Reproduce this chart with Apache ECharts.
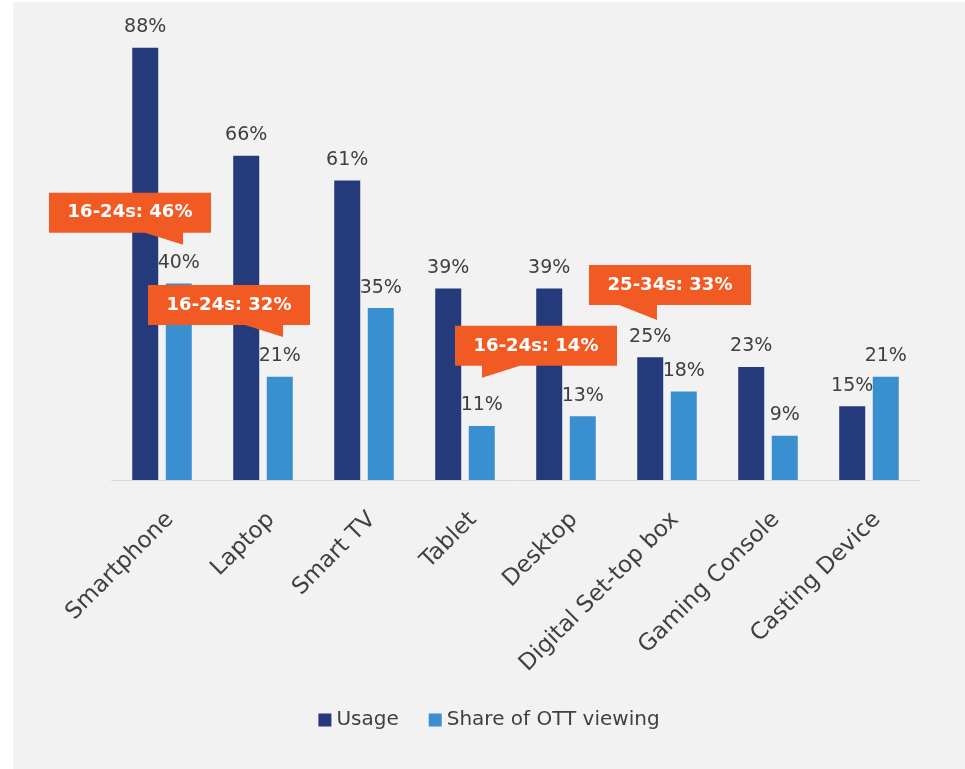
<!DOCTYPE html>
<html>
<head>
<meta charset="utf-8">
<script src="https://cdn.jsdelivr.net/npm/echarts@6/dist/echarts.min.js"></script>
<style>
  html, body { margin: 0; padding: 0; background: #ffffff; }
  #chart { position: absolute; left: 13px; top: 2px; width: 952px; height: 767px; background: #f2f2f2; }
</style>
</head>
<body>
<div id="chart"></div>
<script>
// Devices used to watch OTT content
const categories = ['Smartphone', 'Laptop', 'Smart TV', 'Tablet', 'Desktop', 'Digital Set-top box', 'Gaming Console', 'Casting Device'];
const usage = [88, 66, 61, 39, 39, 25, 23, 15];
const shareOfViewing = [40, 21, 35, 11, 13, 18, 9, 21];

// Age-group call-outs: text, the device they point at, and the value height of the pointer tip
const calloutText = ['16-24s: 46%', '16-24s: 32%', '16-24s: 14%', '25-34s: 33%'];
const calloutCategory = ['Smartphone', 'Laptop', 'Tablet', 'Digital Set-top box'];
const calloutTipValue = [47.9, 29.1, 20.8, 32.6];

// Bubble geometry relative to the pointer tip (pixels)
const calloutLayout = [
  { tipDx: 21, left: -134, top: -52, tail: 'right' },
  { tipDx: 20, left: -135, top: -52, tail: 'right' },
  { tipDx: 17, left: -27, top: -52, tail: 'left' },
  { tipDx: -10, left: -68, top: -55, tail: 'right' }
];

const FONT = 'DejaVu Sans';
const TEXT_COLOR = '#404040';
const NAVY = '#243a7a';
const BLUE = '#3a8fd0';
const ORANGE = '#f25a24';

const chart = echarts.init(document.getElementById('chart'), null, { renderer: 'canvas' });

const valueLabel = {
  show: true,
  position: 'top',
  distance: 11,
  formatter: '{c}%',
  fontFamily: FONT,
  fontSize: 19,
  color: TEXT_COLOR
};

chart.setOption({
  backgroundColor: '#f2f2f2',
  animation: false,
  grid: { left: 98.5, right: 45.5, top: 36, bottom: 289 },
  legend: {
    bottom: 34,
    left: 'center',
    icon: 'rect',
    itemWidth: 13,
    itemHeight: 13,
    itemGap: 30,
    textStyle: { fontFamily: FONT, fontSize: 20, color: TEXT_COLOR },
    data: ['Usage', 'Share of OTT viewing']
  },
  xAxis: {
    type: 'category',
    data: categories,
    axisLine: { show: true, lineStyle: { color: '#d9d9d9', width: 1 } },
    axisTick: { show: false },
    axisLabel: {
      rotate: 45,
      align: 'right',
      verticalAlign: 'top',
      margin: 28,
      interval: 0,
      fontFamily: FONT,
      fontSize: 23,
      color: TEXT_COLOR
    }
  },
  yAxis: {
    type: 'value',
    min: 0,
    max: 90,
    show: false,
    splitLine: { show: false }
  },
  series: [
    {
      name: 'Usage',
      type: 'bar',
      data: usage,
      barWidth: 26,
      barGap: '29%',
      itemStyle: { color: NAVY },
      label: valueLabel
    },
    {
      name: 'Share of OTT viewing',
      type: 'bar',
      data: shareOfViewing,
      barWidth: 26,
      itemStyle: { color: BLUE },
      label: valueLabel
    }
  ]
});

// Speech-bubble call-outs anchored to data coordinates
function buildCallouts() {
  const BOX_W = 162, BOX_H = 40, TAIL_W = 38;
  const elements = calloutText.map(function (text, i) {
    const lay = calloutLayout[i];
    const p = chart.convertToPixel({ gridIndex: 0 }, [calloutCategory[i], calloutTipValue[i]]);
    const L = lay.left, T = lay.top, R = L + BOX_W, B = T + BOX_H;
    let pts;
    if (lay.tail === 'right') {
      pts = [[L, T], [R, T], [R, B], [0, B], [0, 0], [-TAIL_W, B], [L, B]];
    } else {
      pts = [[L, T], [R, T], [R, B], [TAIL_W, B], [0, 0], [0, B], [L, B]];
    }
    return {
      type: 'group',
      x: p[0] + lay.tipDx,
      y: p[1],
      z: 100,
      children: [
        { type: 'polygon', z: 100, shape: { points: pts }, style: { fill: ORANGE } },
        {
          type: 'text', z: 101,
          x: (L + R) / 2, y: (T + B) / 2,
          style: {
            text: text,
            fill: '#ffffff',
            font: 'bold 18px "' + FONT + '"',
            align: 'center',
            verticalAlign: 'middle'
          }
        }
      ]
    };
  });
  chart.setOption({ graphic: { elements: elements } });
}
buildCallouts();
</script>
</body>
</html>
